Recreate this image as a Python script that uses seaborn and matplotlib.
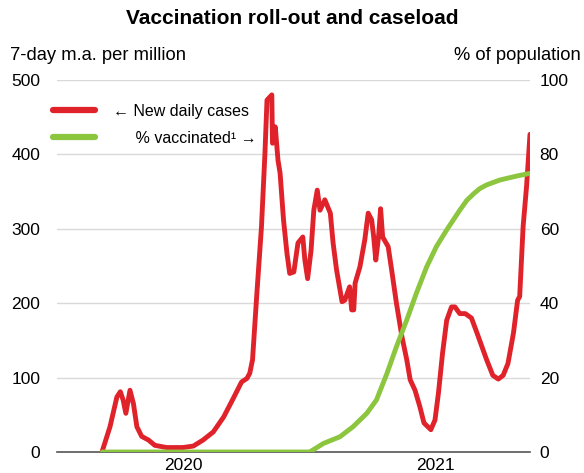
import matplotlib
matplotlib.use("Agg")
import matplotlib.pyplot as plt
import matplotlib.transforms as mtransforms
from matplotlib.lines import Line2D
import pandas as pd
import seaborn as sns

# ---- data (days since 1 Jan 2020) ----
case_days = [66, 77, 87, 92, 96, 100, 106, 111, 116, 123, 133, 142, 159, 183, 198, 212, 227, 242,
             256, 268, 276, 280, 284, 290, 297, 302, 305, 312, 313, 317, 321, 324, 329, 334, 338,
             344, 350, 357, 360, 364, 369, 373, 378, 382, 389, 397, 401, 406, 414, 418, 425, 428,
             431, 433, 440, 447, 452, 457, 460, 463, 467, 470, 473, 481, 486, 493, 501, 508, 513,
             520, 527, 533, 543, 549, 554, 560, 566, 573, 578, 585, 593, 602, 610, 617, 624, 633,
             641, 648, 655, 663, 669, 672, 677, 682, 687]
case_values = [2, 34, 74, 81, 70, 52, 83, 65, 34, 21, 16, 9, 6, 6, 8, 16, 27, 47,
               72, 94, 99, 106, 124, 209, 303, 401, 473, 480, 415, 437, 392, 375, 312, 267, 240,
               242, 281, 289, 258, 233, 271, 325, 352, 325, 339, 321, 281, 245, 202, 204, 222, 191,
               191, 227, 249, 285, 321, 312, 289, 258, 289, 327, 289, 276, 245, 200, 155, 124, 97,
               83, 61, 39, 30, 43, 79, 133, 177, 195, 195, 186, 186, 180, 160, 142, 124, 103,
               98, 103, 119, 160, 204, 209, 303, 357, 427]

vacc_days = [66, 367, 387, 411, 430, 450, 464, 479, 493, 508, 522, 537, 551, 566, 585, 595,
             605, 614, 624, 643, 668, 687]
vacc_values = [0, 0, 2.3, 4.1, 6.8, 10.4, 14, 21, 28.3, 35.5, 42.7, 49.8, 55.2, 59.7, 65, 67.6,
               69.4, 70.8, 71.8, 73.1, 74.2, 74.9]

year_labels = ["2020", "2021"]
year_starts = [0, 366]
year_mids = [183, 549]
quarter_ticks = [65, 157, 248, 340, 431, 523, 614]
left_ticks = [0, 100, 200, 300, 400, 500]
right_ticks = [0, 20, 40, 60, 80, 100]

RED = "#E0222B"
GREEN = "#8CC63F"

cases_df = pd.DataFrame({"day": case_days, "cases": case_values})
vacc_df = pd.DataFrame({"day": vacc_days, "vacc": vacc_values})

sns.set_style("white")
plt.rcParams["font.family"] = ["Liberation Sans", "DejaVu Sans"]
plt.rcParams["text.color"] = "black"
plt.rcParams["xtick.color"] = "black"
plt.rcParams["ytick.color"] = "black"

fig = plt.figure(figsize=(5.84, 4.73), dpi=100)
ax = fig.add_axes([57 / 584, 1 - 452 / 473, (530 - 57) / 584, (452 - 80) / 473])
ax2 = ax.twinx()

sns.lineplot(data=cases_df, x="day", y="cases", ax=ax, color=RED, linewidth=3.5,
             solid_joinstyle="round", solid_capstyle="round")
sns.lineplot(data=vacc_df, x="day", y="vacc", ax=ax2, color=GREEN, linewidth=3.5,
             solid_joinstyle="round", solid_capstyle="round")

ax.set_xlim(0, 687)
ax.set_ylim(0, 500)
ax2.set_ylim(0, 100)
ax.set_yticks(left_ticks)
ax2.set_yticks(right_ticks)
ax.set_xlabel("")
ax.set_ylabel("")
ax2.set_ylabel("")

ax.yaxis.grid(True, color="#d9d9d9", linewidth=1.0)
ax.set_axisbelow(True)
for a in (ax, ax2):
    for s in ("left", "right", "top"):
        a.spines[s].set_visible(False)
ax.spines["bottom"].set_color("#555555")
ax.spines["bottom"].set_linewidth(1.2)
ax2.spines["bottom"].set_visible(False)

ax.tick_params(axis="y", length=0, pad=12, labelsize=12.5, labelcolor="black")
ax2.tick_params(axis="y", length=0, pad=7, labelsize=12.5, labelcolor="black")

ax.set_xticks(year_starts)
ax.set_xticklabels([])
ax.set_xticks(quarter_ticks, minor=True)
ax.tick_params(axis="x", which="major", direction="in", length=9, width=1.1, color="#333333")
ax.tick_params(axis="x", which="minor", direction="in", length=5, width=1.0, color="#333333")

trans = mtransforms.blended_transform_factory(ax.transData, ax.transAxes)
for xm, lab in zip(year_mids, year_labels):
    ax.text(xm, -0.036, lab, transform=trans, ha="center", va="center", fontsize=12.5,
            color="black")

fig.text(0.5, 1 - 18 / 473, "Vaccination roll-out and caseload", ha="center", va="center",
         fontsize=15, fontweight="bold", color="black")
fig.text(10 / 584, 1 - 55 / 473, "7-day m.a. per million", ha="left", va="center",
         fontsize=13.2, color="black")
fig.text(581 / 584, 1 - 55 / 473, "% of population", ha="right", va="center",
         fontsize=13.2, color="black")

handles = [Line2D([0], [0], color=RED, linewidth=4.5),
           Line2D([0], [0], color=GREEN, linewidth=4.5)]
labels = ["\u2190 New daily cases", "     % vaccinated\u00b9 \u2192"]
leg = fig.legend(handles, labels, loc="upper left", bbox_to_anchor=(53 / 584, 1 - 104 / 473),
                 frameon=False, fontsize=11.5, handlelength=2.65, handletextpad=1.1,
                 borderpad=0, borderaxespad=0, labelspacing=0.75)
for t in leg.get_texts():
    t.set_color("black")

fig.savefig("out.png", dpi=100)
